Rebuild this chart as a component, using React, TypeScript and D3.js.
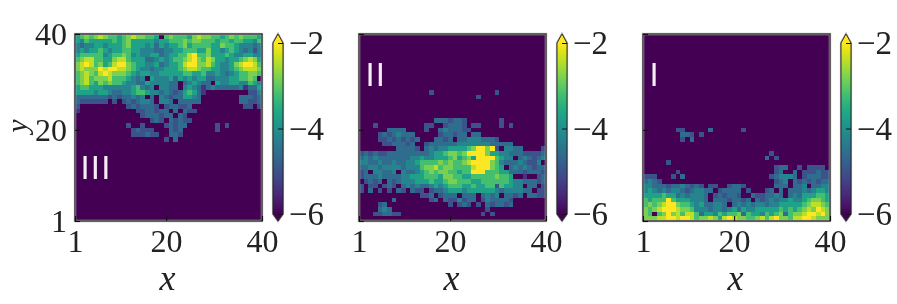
import React, { useEffect, useRef } from "react";
import * as d3 from "d3";

// each digit is one cell, row 0 is y = 40; the digit picks from cellLevels
const cellLevels = [-6, -5.4, -5.0, -4.6, -4.2, -3.7, -3.2, -2.8, -2.4, -2];
const axisTicks = [1, 20, 40];
const barTicks = [-2, -4, -6];
const EMPTY = "0000000000 0000000000 0000000000 0000000000";

const rowsIII = [
  "5676787665 6787766506 7666578776 6567676665",
  "5465555565 6755555455 6667677666 5665665546",
  "4344554555 6755545354 5567566665 5766544434",
  "4545565455 6655444334 4556665575 5456543424",
  "5666664566 7645445534 5566896675 5565445544",
  "6788665578 8655533454 5667897687 5545567875",
  "7898675689 9765544534 5568997786 5445789986",
  "7877798998 8765443445 5567887665 5445678887",
  "6787689877 7654554455 5556655644 5434566776",
  "6786777866 6543405444 5354545533 4445566760",
  "6786576766 5443354444 3303454330 5445544654",
  "5665554444 4456434044 3304543134 3333341335",
  "5555455433 4456654434 3235653100 0000000224",
  "3333333232 3343403043 2335543000 0000033323",
  "3222222020 2323443044 3033333000 0000033223",
  "2000000000 0232333202 3322300000 0000002202",
  "1000000000 0002233233 0303220000 0000000000",
  "0000000000 0000233323 3032000000 0000000000",
  "0000000000 0000002320 3232200000 0000000000",
  "0000000000 0200200002 3233000000 2020000000",
  "0000000000 0023222000 3230000000 2000000000",
  "0000000000 0022232200 3320000000 0000000000",
  "0000000000 0000000002 0300000000 0000000000",
  ...d3.range(17).map(() => EMPTY),
];

const rowsII = [
  ...d3.range(12).map(() => EMPTY),
  "0000000000 0000020000 0000000002 0000000000",
  "0000000000 0000000000 0000020000 0000000000",
  ...d3.range(4).map(() => EMPTY),
  "0000000000 0000003332 3320000000 2000000000",
  "0002000000 0000220023 3320220000 2020000000",
  "0000003333 0000200343 3322000000 0000000000",
  "0000232343 3300000233 2330330000 0000000000",
  "0000223232 3230003323 0334443332 0000000000",
  "0000022333 2300233333 3444444433 3330000000",
  "0000000033 3320343445 5556799792 0443300002",
  "2323223333 3333345567 7679999755 4433322223",
  "3434333333 3445445556 7567599996 5440343234",
  "4433433433 4456666767 6678999976 4333432240",
  "3344344443 4446778677 6666899976 5034343233",
  "2304433404 3345676776 6566999666 5533323332",
  "2333433334 4555666577 6655666667 6650010023",
  "0232303234 4455565567 7666556666 6654433323",
  "2022023203 4343345456 6655655662 6554403302",
  "2030202032 0322023345 5545555554 3444433022",
  "0000000000 0002230233 3033303434 0332303322",
  "0000000300 0000023032 2423302433 3320000000",
  "0000230000 0000000002 0232020323 3230000000",
  "0000343000 0000000000 0000000200 0000000000",
  "0002233220 0000000000 0000002020 0000000000",
  EMPTY,
];

const rowsI = [
  ...d3.range(20).map(() => EMPTY),
  "0000000220 0000300000 0200000000 0000000000",
  "0000000033 2020000000 0000000000 0000000000",
  "0000000020 3000000000 0000000000 0000000000",
  EMPTY,
  EMPTY,
  "0000000000 0000000000 0000000200 0000000000",
  "0000000000 0000000000 0000003020 0000000000",
  "0000020000 0000000000 0000000000 0000000000",
  "0000000000 0000000000 0000000023 3002022220",
  "0000000200 0000000000 0000000023 0030222322",
  "2220002030 0000000000 0000000234 4430233322",
  "3432000000 0000000000 0000000023 4032323233",
  "4433323343 2320220023 3200000033 3033403344",
  "4543434432 3443302333 3020002303 0333434554",
  "5555655343 4443023233 2003223343 0343555665",
  "6566696555 4443033323 3230323434 4544567765",
  "6767899766 5453344303 4343443445 5555678876",
  "7678999877 6444344345 3544555556 5656787987",
  "7606797868 8635546566 7365546567 3677899897",
  "7778899899 8677875898 7766786897 7688998777",
];

const panels = [
  { rows: rowsIII, label: "III", labelX: 80.5, labelY: 179, showY: true, left: 75 },
  { rows: rowsII, label: "II", labelX: 365.5, labelY: 86, showY: false, left: 359 },
  { rows: rowsI, label: "I", labelX: 649.5, labelY: 86, showY: false, left: 643 },
];

const TOP = 34;
const SIZE = 187;
const SERIF = "'Liberation Serif', serif";
const INK = "#222";

export default function App() {
  const svgRef = useRef<SVGSVGElement>(null);

  useEffect(() => {
    const svg = d3.select(svgRef.current);
    svg.selectAll("*").remove();

    const color = d3.scaleSequential(d3.interpolateViridis).domain([-6, -2]);
    const cells = d3.range(40);

    panels.forEach((p) => {
      const g = svg.append("g").attr("transform", `translate(${p.left},${TOP})`);
      const xBand = d3.scaleBand<number>().domain(cells).range([0, SIZE]);
      const yBand = d3.scaleBand<number>().domain(cells).range([0, SIZE]);
      const x = d3.scaleLinear().domain([1, 40]).range([0, SIZE]);
      const y = d3.scaleLinear().domain([1, 40]).range([SIZE, 0]);

      const grid = p.rows.flatMap((row, r) =>
        row.replace(/ /g, "").split("").map((d, c) => ({ r, c, v: cellLevels[+d] }))
      );
      g.append("g")
        .attr("shape-rendering", "crispEdges")
        .selectAll("rect")
        .data(grid)
        .join("rect")
        .attr("x", (d) => xBand(d.c)!)
        .attr("y", (d) => yBand(d.r)!)
        .attr("width", xBand.bandwidth() + 0.5)
        .attr("height", yBand.bandwidth() + 0.5)
        .attr("fill", (d) => color(d.v));

      // frame with the soft grey edge
      g.append("rect").attr("width", SIZE).attr("height", SIZE).attr("fill", "none").attr("stroke", "#bbb").attr("stroke-width", 2.4);
      g.append("rect").attr("width", SIZE).attr("height", SIZE).attr("fill", "none").attr("stroke", INK).attr("stroke-width", 1.2);

      const xAxis = d3.axisBottom(x).tickValues(axisTicks).tickSize(-5).tickPadding(8).tickFormat(d3.format("d"));
      const xG = g.append("g").attr("transform", `translate(0,${SIZE})`).call(xAxis);
      const yAxis = d3.axisLeft(y).tickValues(axisTicks).tickSize(-5).tickPadding(8).tickFormat(p.showY ? d3.format("d") : () => "");
      const yG = g.append("g").call(yAxis);
      [xG, yG].forEach((a) => {
        a.select(".domain").remove();
        a.selectAll("line").attr("stroke", "#111").attr("stroke-width", 1.1);
        a.selectAll("text").attr("font-family", SERIF).attr("font-size", 32).attr("fill", INK);
      });

      g.append("text")
        .attr("x", SIZE / 2 - 1)
        .attr("y", 256 - TOP)
        .attr("dy", 34)
        .attr("text-anchor", "middle")
        .attr("font-family", SERIF)
        .attr("font-style", "italic")
        .attr("font-size", 36)
        .attr("fill", INK)
        .text("x");

      svg.append("text")
        .attr("x", p.labelX)
        .attr("y", p.labelY)
        .attr("font-family", "'Liberation Sans', sans-serif")
        .attr("font-size", 33)
        .attr("letter-spacing", 1.2)
        .attr("fill", "#f4eef4")
        .text(p.label);

      // colour bar
      const barX = p.left + 198;
      const barW = 10;
      const barScale = d3.scaleLinear().domain([-6, -2]).range([214, 43]);
      const bar = svg.append("g").attr("transform", `translate(${barX},0)`);
      const outline = `M0,43 L${barW / 2},34 L${barW},43 L${barW},214 L${barW / 2},221 L0,214 Z`;
      bar.append("path").attr("d", outline).attr("fill", color(-2)).attr("stroke", "#aaa").attr("stroke-width", 2.2);
      bar.append("path").attr("d", `M0,214 L${barW / 2},221 L${barW},214 Z`).attr("fill", color(-6));
      bar.append("path").attr("d", `M0,43 L${barW / 2},34 L${barW},43 Z`).attr("fill", color(-2));
      const steps = d3.range(-6, -2, 0.02);
      bar.append("g")
        .attr("shape-rendering", "crispEdges")
        .selectAll("rect")
        .data(steps)
        .join("rect")
        .attr("x", 0)
        .attr("width", barW)
        .attr("y", (d) => barScale(d + 0.02))
        .attr("height", barScale(-6) - barScale(-5.98) + 0.5)
        .attr("fill", (d) => color(d));
      bar.append("path").attr("d", outline).attr("fill", "none").attr("stroke", INK).attr("stroke-width", 0.9);

      const barAxis = d3.axisRight(barScale).tickValues(barTicks).tickSize(-5).tickPadding(6).tickFormat((d) => `\u2212${Math.abs(+d)}`);
      const barG = svg.append("g").attr("transform", `translate(${barX + barW},0)`).call(barAxis);
      barG.select(".domain").remove();
      barG.selectAll("line").attr("stroke", "#111").attr("stroke-width", 1);
      barG.selectAll("text").attr("font-family", SERIF).attr("font-size", 33).attr("fill", INK);
    });

    svg.append("text")
      .attr("transform", "translate(27,126) rotate(-90)")
      .attr("text-anchor", "middle")
      .attr("font-family", SERIF)
      .attr("font-style", "italic")
      .attr("font-size", 30)
      .attr("fill", INK)
      .text("y");
  }, []);

  return (
    <svg
      ref={svgRef}
      width={897}
      height={304}
      style={{ position: "absolute", left: 0, top: 0, display: "block", background: "#fff", filter: "blur(0.45px)" }}
    />
  );
}
